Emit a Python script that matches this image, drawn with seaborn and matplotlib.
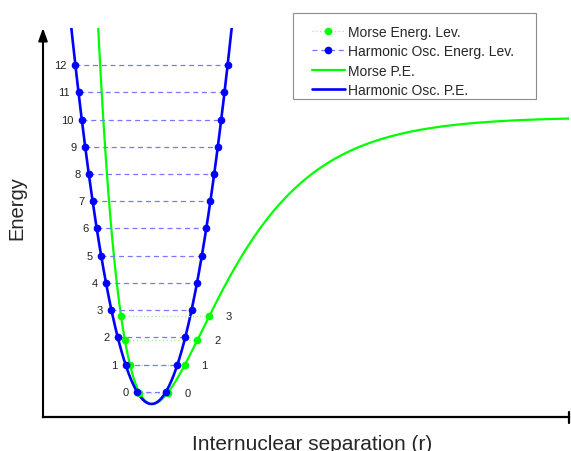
import numpy as np
import pandas as pd
import matplotlib
matplotlib.use("Agg")
import matplotlib.pyplot as plt
import seaborn as sns
from matplotlib.lines import Line2D
from matplotlib.legend_handler import HandlerLine2D

sns.set_style("white")
plt.rcParams["font.family"] = ["Liberation Sans", "DejaVu Sans"]

# ---- data (energies in units of h*nu, separation in arbitrary units) ----
harmonic_levels = [0.45, 1.45, 2.45, 3.45, 4.45, 5.45, 6.45, 7.45, 8.45, 9.45, 10.45, 11.45, 12.45]
harmonic_labels = ["0", "1", "2", "3", "4", "5", "6", "7", "8", "9", "10", "11", "12"]
morse_levels = [0.42, 1.42, 2.35, 3.24]
morse_labels = ["0", "1", "2", "3"]
# potential parameters
harm_r_eq = 1.085
harm_k = 21.5
morse_r_eq = 1.092
morse_De = 10.55
morse_a = 1.413
series_names = ["Morse Energ. Lev.", "Harmonic Osc. Energ. Lev.", "Morse P.E.", "Harmonic Osc. P.E."]

BLUE = "#0000ff"
GREEN = "#00ff00"
LVL_BLUE = "#7878ff"
LVL_GREEN = "#9cee9c"

fig = plt.figure(figsize=(5.71, 4.52), dpi=100)
ax = fig.add_axes([43 / 571, (452 - 418.3) / 452, (569 - 43) / 571, (418.3 - 29) / 452])
ax.set_xlim(0, 5.26)
ax.set_ylim(-0.49, 13.82)

r = np.linspace(0.0, 5.26, 2000)
df = pd.DataFrame({
    "r": r,
    "harm": harm_k * (r - harm_r_eq) ** 2,
    "morse": morse_De * (1 - np.exp(-morse_a * (r - morse_r_eq))) ** 2,
})

# Morse energy levels
for E, lab in zip(morse_levels, morse_labels):
    s = np.sqrt(E / morse_De)
    rl = morse_r_eq - np.log(1 + s) / morse_a
    rr = morse_r_eq - np.log(1 - s) / morse_a
    ax.plot([rl, rr], [E, E], ls=(0, (1, 2)), color=LVL_GREEN, lw=0.9,
            marker="o", ms=4.5, mfc=GREEN, mec=GREEN, zorder=3)
    ax.annotate(lab, xy=(rr, E), xytext=(12, 0), textcoords="offset points",
                ha="left", va="center", fontsize=8, color="#222222")

# Harmonic energy levels
for E, lab in zip(harmonic_levels, harmonic_labels):
    d = np.sqrt(E / harm_k)
    rl, rr = harm_r_eq - d, harm_r_eq + d
    ax.plot([rl, rr], [E, E], ls=(0, (4, 3)), color=LVL_BLUE, lw=0.9,
            marker="o", ms=4.5, mfc=BLUE, mec=BLUE, zorder=4)
    ax.annotate(lab, xy=(rl, E), xytext=(-6, 0), textcoords="offset points",
                ha="right", va="center", fontsize=8, color="#222222")

sns.lineplot(data=df, x="r", y="morse", color=GREEN, lw=1.6, ax=ax, zorder=2, legend=False)
sns.lineplot(data=df, x="r", y="harm", color=BLUE, lw=1.9, ax=ax, zorder=2.5, legend=False)

ax.set_xticks([])
ax.set_yticks([])
ax.set_xlabel("")
ax.set_ylabel("")
for sp in ax.spines.values():
    sp.set_visible(False)

# axes with arrow / end tick
ax.annotate("", xy=(0, 1), xycoords="axes fraction", xytext=(0, 0), textcoords="axes fraction",
            arrowprops=dict(arrowstyle="-|>,head_length=0.75,head_width=0.27", color="k",
                            lw=1.5, shrinkA=0, shrinkB=0), annotation_clip=False)
ax.plot([0, 1], [0, 0], transform=ax.transAxes, color="k", lw=1.6, clip_on=False,
        solid_capstyle="projecting", zorder=5)
ax.plot([1, 1], [-0.014, 0.014], transform=ax.transAxes, color="k", lw=1.6, clip_on=False, zorder=5)

# legend
h1 = Line2D([], [], ls=(0, (1, 2)), color=LVL_GREEN, lw=0.9, marker="o", ms=4.5, mfc=GREEN, mec=GREEN)
h2 = Line2D([], [], ls=(0, (4, 3)), color=LVL_BLUE, lw=0.9, marker="o", ms=4.5, mfc=BLUE, mec=BLUE)
h3 = Line2D([], [], color=GREEN, lw=1.6)
h4 = Line2D([], [], color=BLUE, lw=1.9)
leg = ax.legend(handles=[h1, h2, h3, h4], labels=series_names, loc="upper left",
                bbox_to_anchor=(293 / 571, (452 - 99) / 452, (536 - 293) / 571, (99 - 14) / 452),
                bbox_transform=fig.transFigure, mode="expand", borderaxespad=0,
                frameon=True, fancybox=False, framealpha=1, edgecolor="#8c8c8c",
                fontsize=10, numpoints=1, handlelength=3.58, handletextpad=0.24,
                labelspacing=0.39, borderpad=0.17,
                title=" ", title_fontsize=2,
                handler_map={Line2D: HandlerLine2D(xpad=1.18)})
leg.get_frame().set_linewidth(0.8)

fig.text(17 / 571, 1 - 208 / 452, "Energy", rotation=90, ha="center", va="center", fontsize=14.5)
fig.text(311.7 / 571, 1 - 450.5 / 452, "Internuclear separation (r)", ha="center", va="baseline", fontsize=15)

fig.savefig("out.png", dpi=100)
